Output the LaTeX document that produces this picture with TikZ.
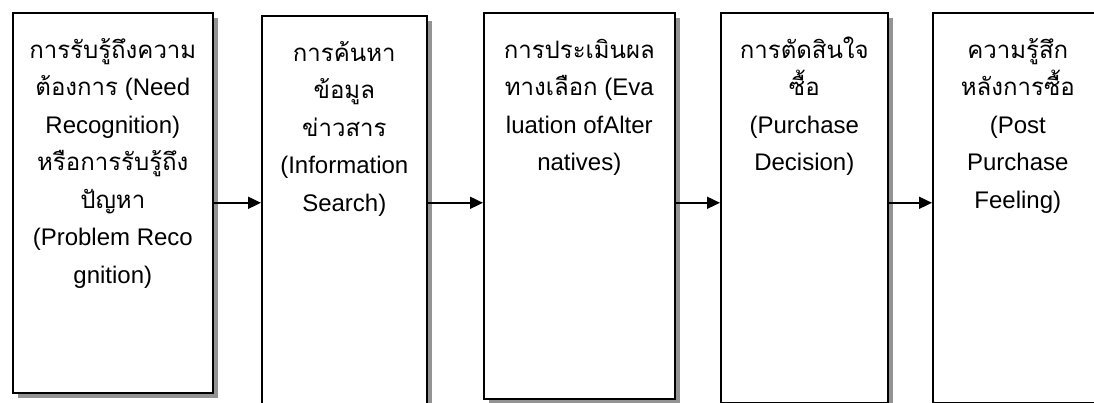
\documentclass[tikz,border=0pt]{standalone}
\usepackage{fontspec}
\setmainfont{Liberation Sans}
\newfontfamily\thaifont[Script=Thai]{Loma}
\usetikzlibrary{arrows.meta,shadows}

\tikzset{
  stagebox/.style={draw,line width=1.6pt,fill=white,inner sep=0pt,anchor=north west,
    drop shadow={shadow xshift=5pt,shadow yshift=-5pt,fill=gray!85,opacity=1}},
  stagetext/.style={anchor=north,inner sep=0pt,align=center,font=\fontsize{24}{37.5}\selectfont},
  flow/.style={line width=1.8pt,-{Triangle[length=13pt,width=12pt]}}
}

\begin{document}
\begin{tikzpicture}[x=1pt,y=-1pt]
			\clip (0,0) rectangle (1094,403);
			\node[stagebox,minimum width=200pt,minimum height=380pt] (b1) at (12,12) {};
			\node[stagebox,minimum width=165pt,minimum height=405pt] (b2) at (261,15) {};
			\node[stagebox,minimum width=191pt,minimum height=386pt] (b3) at (483,12) {};
			\node[stagebox,minimum width=167pt,minimum height=390pt] (b4) at (720,12) {};
			\node[stagebox,minimum width=170pt,minimum height=390pt] (b5) at (932,12) {};
			\node[stagetext] (t1) at ([yshift=-20pt]b1.north) {\strut{\thaifont การรับรู้ถึงความ}\\{\thaifont ต้องการ} (Need\\Recognition)\\{\thaifont หรือการรับรู้ถึง}\\{\thaifont ปัญหา}\\(Problem Reco\\gnition)};
			\node[stagetext] (t2) at ([yshift=-20pt]b2.north) {\strut{\thaifont การค้นหา}\\{\thaifont ข้อมูล}\\{\thaifont ข่าวสาร}\\(Information\\Search)};
			\node[stagetext] (t3) at ([yshift=-20pt]b3.north) {\strut{\thaifont การประเมินผล}\\{\thaifont ทางเลือก} (Eva\\luation ofAlter\\natives)};
			\node[stagetext] (t4) at ([yshift=-20pt]b4.north) {\strut{\thaifont การตัดสินใจ}\\{\thaifont ซื้อ}\\(Purchase\\Decision)};
			\node[stagetext] (t5) at ([yshift=-20pt]b5.north) {\strut{\thaifont ความรู้สึก}\\{\thaifont หลังการซื้อ}\\(Post\\Purchase\\Feeling)};
			\foreach \a/\b in {b1/b2,b2/b3,b3/b4,b4/b5}{
				\draw[flow] (\a.east |- b1.east)--(\b.west |- b1.east);
			}
		\end{tikzpicture}
\end{document}
